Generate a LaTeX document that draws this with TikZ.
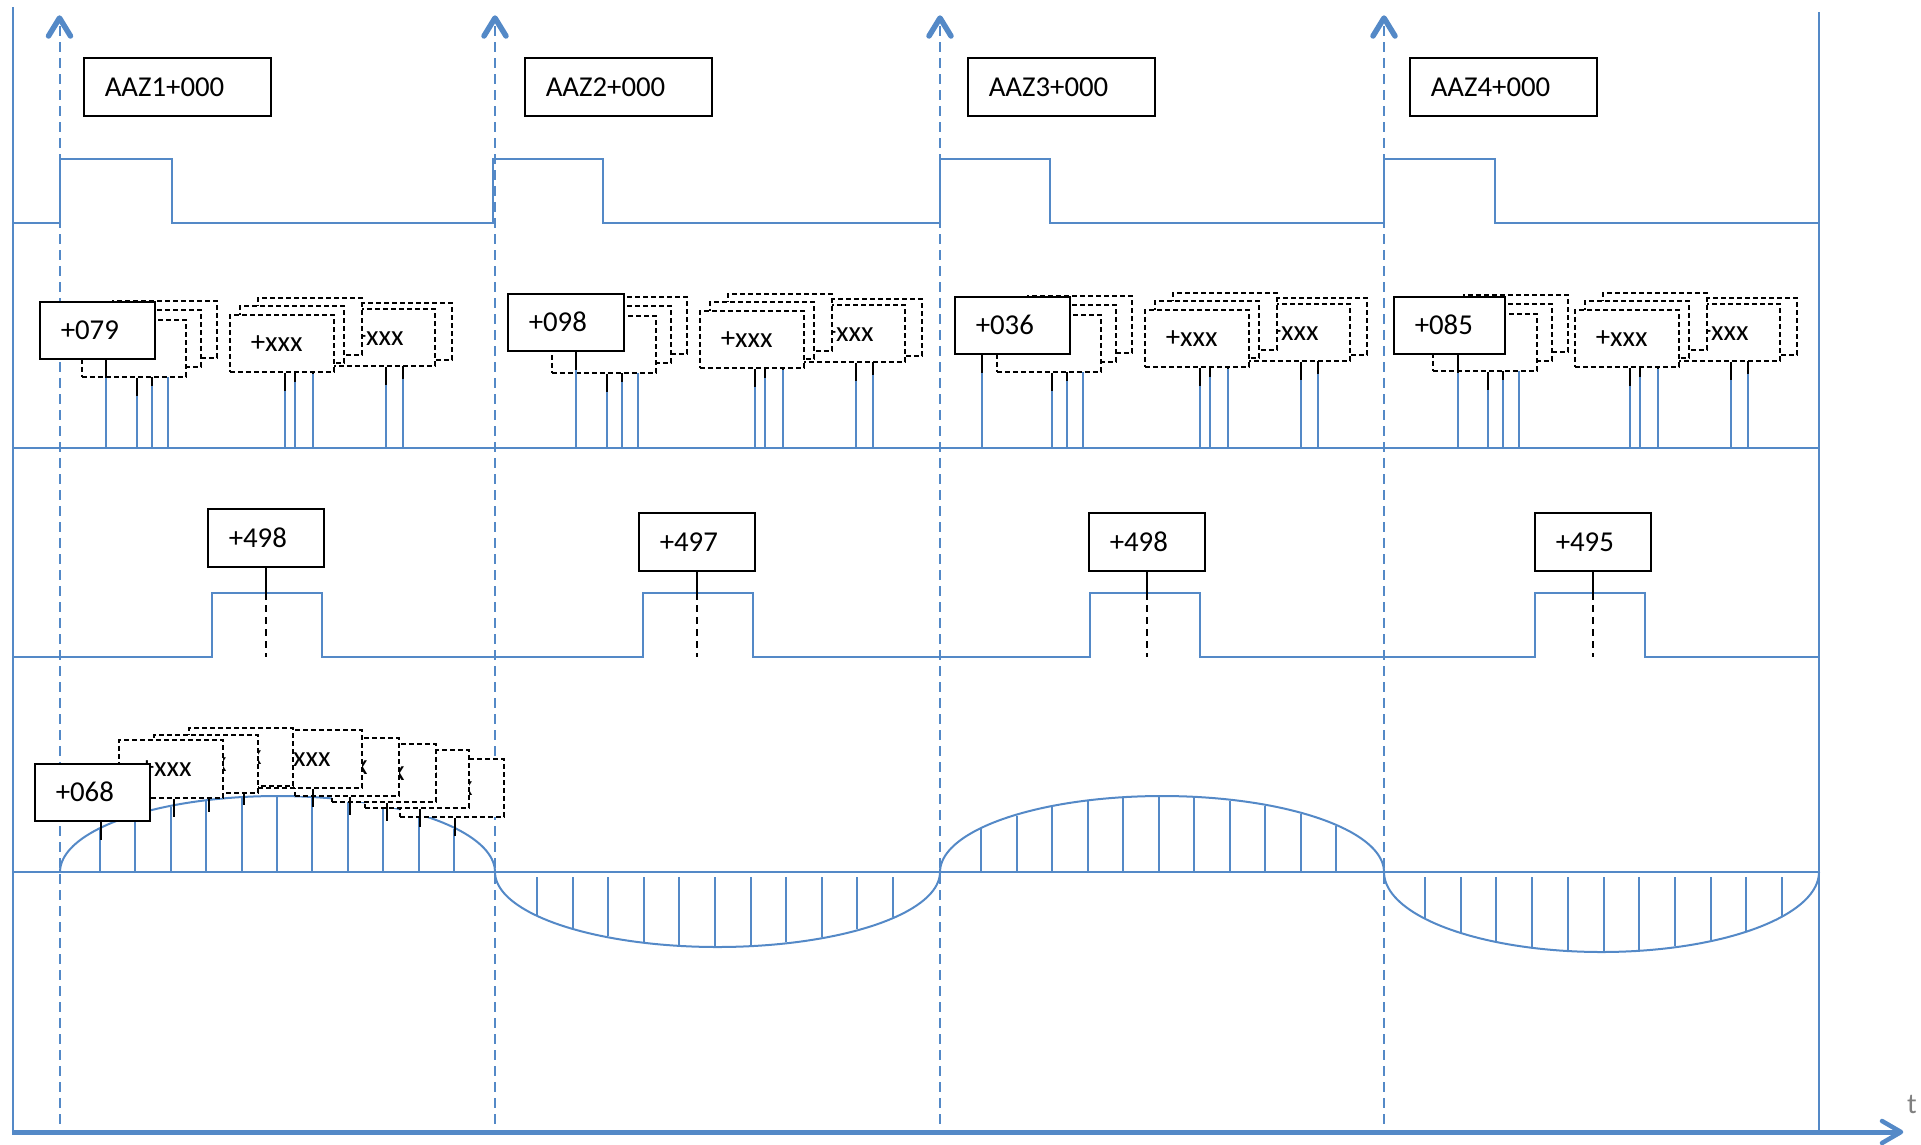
\documentclass[tikz,border=0pt]{standalone}
\usepackage{fontspec}
\newfontfamily\lblfont{Carlito}
\definecolor{cblue}{RGB}{84,137,199}
\tikzset{
  blueline/.style={draw=cblue, line width=2pt},
  lbl/.style={font={\lblfont\fontsize{28.8}{34}\selectfont}},
  sbox/.style={lbl, draw=black, line width=1.5pt, fill=white, anchor=north west,
    inner xsep=21pt, inner ysep=0pt, align=left, minimum height=57pt},
  dbox/.style={sbox, dash pattern=on 5pt off 3pt, text width=62pt},
  stub/.style={draw=black, line width=2.2pt},
  vdash/.style={draw=cblue, line width=2pt, dash pattern=on 10pt off 6pt},
  chev/.style={draw=cblue, line width=5.5pt, line cap=round, line join=round},
  stemdash/.style={draw=black, line width=1.8pt, dash pattern=on 7pt off 5pt},
}
% one stacked box with its stub and blue drop line (row 2)
\newcommand\rbox[3]{% #1 name, #2 position, #3 text
  \node[dbox] (#1) at #2 {#3};
  \draw[stub] ([xshift=3pt]#1.south) -- ++(0,18) coordinate (#1e);
  \draw[blueline] (#1e) -- (#1e |- r2base);
}
\newcommand\groupB[2]{%
  \begin{scope}[shift={#1}]
    \rbox{#2b3}{(112,300)}{+xxx}
    \rbox{#2b2}{(96,309)}{+xxx}
    \rbox{#2b1}{(81,319)}{+xxx}
  \end{scope}}
\newcommand\groupG[2]{%
  \begin{scope}[shift={#1}]
    \rbox{#2g5}{(347,302)}{+xxx}
    \rbox{#2g4}{(330,308)}{+xxx}
    \rbox{#2g3}{(257,297)}{+xxx}
    \rbox{#2g2}{(239,305)}{+xxx}
    \rbox{#2g1}{(229,314)}{+xxx}
  \end{scope}}
\newcommand\frontbox[5]{% #1 name, #2 pos, #3 text width, #4 stub offset, #5 text
  \node[sbox, text width=#3] (#1) at #2 {#5};
  \draw[stub] ([xshift=#4]#1.south west) -- ++(0,18) coordinate (#1e);
  \draw[blueline] (#1e) -- (#1e |- r2base);
}
% stacked box of row 4 (stub only)
\newcommand\qbox[2]{%
  \node[dbox, minimum height=58pt] (#1) at #2 {+xxx};
  \draw[stub] ([xshift=3pt]#1.south) -- ++(0,18);
}
\begin{document}
\begin{tikzpicture}[x=1pt,y=-1pt]
\useasboundingbox (0,0) rectangle (1921,1144);
\coordinate (r2base) at (0,448);
\coordinate (r3top) at (0,593);
\coordinate (r3base) at (0,657);

% frame
\draw[blueline] (12.5,7) -- (12.5,1132);
\draw[blueline] (1819,12) -- (1819,1132);

% row 1 pulses
\draw[blueline] (12,223) -- (60,223) -- (60,159) -- (172,159) -- (172,223)
  -- (493,223) -- (493,159) -- (603,159) -- (603,223)
  -- (940,223) -- (940,159) -- (1050,159) -- (1050,223)
  -- (1384,223) -- (1384,159) -- (1495,159) -- (1495,223) -- (1819,223);
% row 2 baseline
\draw[blueline] (12,448) -- (1819,448);
% row 3 pulses
\draw[blueline] (12,657) -- (212,657) -- (212,593) -- (322,593) -- (322,657)
  -- (643,657) -- (643,593) -- (753,593) -- (753,657)
  -- (1090,657) -- (1090,593) -- (1200,593) -- (1200,657)
  -- (1535,657) -- (1535,593) -- (1645,593) -- (1645,657) -- (1819,657);
% row 4 baseline and humps
\draw[blueline] (12,872) -- (1819,872);
\foreach \cx/\ra/\rb/\hs/\hd/\sg in {277.5/217.5/76/100/35.4/-1, 717.5/222.5/75/537/35.6/1,
    1162/222/76/981/35.5/-1, 1601.5/217.5/80/1425/35.7/1} {
  \draw[blueline] plot[domain=180:0, samples=90] ({\cx+\ra*cos(\x)},{872+\sg*\rb*sin(\x)});
  \pgfmathsetmacro\hst{\sg>0 ? 877 : 872}
  \foreach \k in {0,...,10} {
    \pgfmathsetmacro\hx{\hs+\hd*\k}
    \pgfmathsetmacro\hh{\rb*sqrt(max(0,1-((\hx-\cx)/\ra)^2))}
    \draw[blueline] (\hx,\hst) -- (\hx,{872+\sg*(\hh-1)});
  }
}

% dashed time markers with arrow heads
\foreach \vx in {59.5,495,940,1384} {
  \draw[vdash] (\vx,26) -- (\vx,1130);
  \draw[chev] ({\vx-11},36) -- (\vx,18) -- ({\vx+11},36);
}

% row 1 labels
\node[sbox, text width=145pt, minimum height=58pt] (aaz1) at (83,57) {AAZ1+000};
\node[sbox, text width=145pt, minimum height=58pt] (aaz2) at (524,57) {AAZ2+000};
\node[sbox, text width=145pt, minimum height=58pt] (aaz3) at (967,57) {AAZ3+000};
\node[sbox, text width=145pt, minimum height=58pt] (aaz4) at (1409,57) {AAZ4+000};

% row 2 label clusters
\groupB{(0,0)}{ca}
\frontbox{caf}{(39,301)}{73pt}{67pt}{+079}
\groupG{(0,0)}{ca}
\groupB{(470,-4)}{cb}
\frontbox{cbf}{(507,293)}{74pt}{69pt}{+098}
\groupG{(470,-4)}{cb}
\groupB{(915,-5)}{cc}
\frontbox{ccf}{(954,296)}{73pt}{28pt}{+036}
\groupG{(915,-5)}{cc}
\groupB{(1351,-6)}{cd}
\frontbox{cdf}{(1393,296)}{69pt}{65pt}{+085}
\groupG{(1345,-5)}{cd}

% row 3 labels
\foreach \nm/\px/\py/\tx in {ra/207/508/+498, rb/638/512/+497, rc/1088/512/+498, rd/1534/512/+495} {
  \node[sbox, text width=74pt, minimum height=58pt] (\nm) at (\px,\py) {\tx};
  \draw[black, line width=1.8pt] (\nm.south) -- (\nm.south |- r3top);
  \draw[stemdash] (\nm.south |- r3top) -- (\nm.south |- r3base);
}

% row 4 label cluster
\qbox{qh}{(399,758)}
\qbox{qg}{(364,749)}
\qbox{qf}{(331,743)}
\qbox{qe}{(294,737)}
\qbox{qd}{(257,729)}
\qbox{qc}{(188,727)}
\qbox{qb}{(153,734)}
\qbox{qa}{(118,739)}
\node[sbox, text width=73pt] (qfront) at (34,763) {+068};
\draw[stub] ([xshift=67pt]qfront.south west) -- ++(0,18);

% time axis
\draw[cblue, line width=5pt] (12,1132) -- (1897,1132);
\draw[cblue, line width=4.5pt, line cap=round, line join=round] (1882,1121) -- (1901,1132) -- (1882,1143);
\node[lbl, text=gray, inner sep=0pt] (tlab) at (1912,1104) {t};
\end{tikzpicture}
\end{document}
